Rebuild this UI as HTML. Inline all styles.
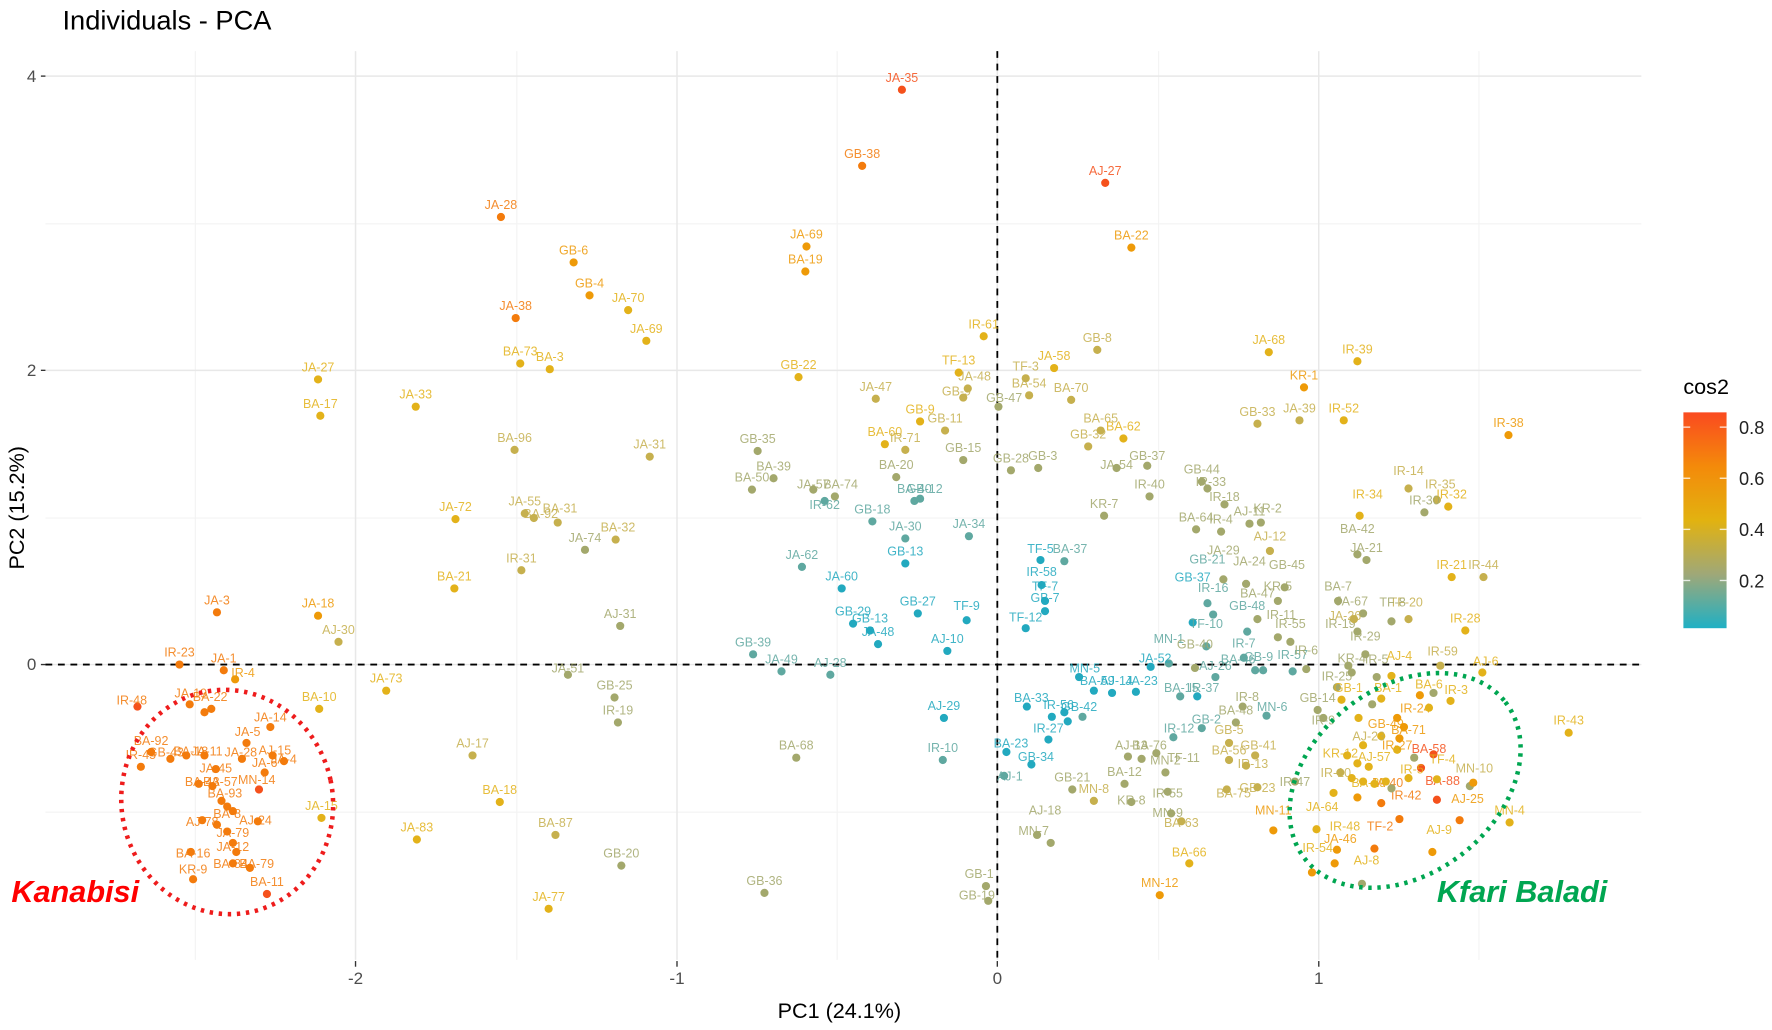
<!DOCTYPE html>
<html><head><meta charset="utf-8"><style>
html,body{margin:0;padding:0;background:#fff;}
svg{display:block;}
text{font-family:"Liberation Sans",sans-serif;}
.p text{font-size:11px;text-anchor:middle;opacity:.85;}
.a{fill:#22a9bf}.b{fill:#5fa8a0}.c{fill:#a3a86c}.d{fill:#c6b04e}.e{fill:#e3b21a}.f{fill:#ee9a08}.g{fill:#f37b0c}.h{fill:#f5511c}
</style></head><body>
<svg width="1772" height="1030" viewBox="0 0 1560 906.7" preserveAspectRatio="none" xmlns="http://www.w3.org/2000/svg">
<rect width="1560" height="907" fill="#fff"/>
<text x="55" y="26" font-size="24">Individuals - PCA</text>
<!-- grid -->
<g stroke="#f3f3f3" stroke-width="1">
<line x1="172" y1="45" x2="172" y2="845"/><line x1="455" y1="45" x2="455" y2="845"/><line x1="737" y1="45" x2="737" y2="845"/><line x1="1020" y1="45" x2="1020" y2="845"/><line x1="1302" y1="45" x2="1302" y2="845"/>
<line x1="40" y1="197" x2="1445" y2="197"/><line x1="40" y1="456" x2="1445" y2="456"/><line x1="40" y1="715" x2="1445" y2="715"/>
</g>
<g stroke="#e8e8e8" stroke-width="1.3">
<line x1="313" y1="45" x2="313" y2="845"/><line x1="596" y1="45" x2="596" y2="845"/><line x1="878" y1="45" x2="878" y2="845"/><line x1="1161" y1="45" x2="1161" y2="845"/>
<line x1="40" y1="67" x2="1445" y2="67"/><line x1="40" y1="326" x2="1445" y2="326"/><line x1="40" y1="585" x2="1445" y2="585"/>
</g>
<!-- ticks -->
<g stroke="#333" stroke-width="1.2">
<line x1="36" y1="67" x2="40" y2="67"/><line x1="36" y1="326" x2="40" y2="326"/><line x1="36" y1="585" x2="40" y2="585"/>
<line x1="313" y1="846" x2="313" y2="851"/><line x1="596" y1="846" x2="596" y2="851"/><line x1="878" y1="846" x2="878" y2="851"/><line x1="1161" y1="846" x2="1161" y2="851"/>
</g>
<g font-size="15" fill="#4d4d4d">
<text x="32" y="72" text-anchor="end">4</text><text x="32" y="331" text-anchor="end">2</text><text x="32" y="590" text-anchor="end">0</text>
<text x="313" y="866" text-anchor="middle">-2</text><text x="596" y="866" text-anchor="middle">-1</text><text x="878" y="866" text-anchor="middle">0</text><text x="1161" y="866" text-anchor="middle">1</text>
</g>
<text x="739" y="896" font-size="19" text-anchor="middle">PC1 (24.1%)</text>
<text transform="translate(21,447) rotate(-90)" font-size="19" text-anchor="middle">PC2 (15.2%)</text>
<!-- dashed axes -->
<line x1="878" y1="45" x2="878" y2="845" stroke="#000" stroke-width="1.6" stroke-dasharray="6,5"/>
<line x1="40" y1="585" x2="1445" y2="585" stroke="#000" stroke-width="1.6" stroke-dasharray="6,5"/>
<!-- points -->
<g class="p">
<circle class="h" cx="794" cy="79" r="3.6"/><text class="h" x="794" y="72">JA-35</text>
<circle class="g" cx="759" cy="146" r="3.6"/><text class="g" x="759" y="139">GB-38</text>
<circle class="h" cx="973" cy="161" r="3.6"/><text class="h" x="973" y="154">AJ-27</text>
<circle class="g" cx="441" cy="191" r="3.6"/><text class="g" x="441" y="184">JA-28</text>
<circle class="f" cx="505" cy="231" r="3.6"/><text class="f" x="505" y="224">GB-6</text>
<circle class="f" cx="519" cy="260" r="3.6"/><text class="f" x="519" y="253">GB-4</text>
<circle class="e" cx="553" cy="273" r="3.6"/><text class="e" x="553" y="266">JA-70</text>
<circle class="e" cx="569" cy="300" r="3.6"/><text class="e" x="569" y="293">JA-69</text>
<circle class="g" cx="454" cy="280" r="3.6"/><text class="g" x="454" y="273">JA-38</text>
<circle class="e" cx="458" cy="320" r="3.6"/><text class="e" x="458" y="313">BA-73</text>
<circle class="e" cx="484" cy="325" r="3.6"/><text class="e" x="484" y="318">BA-3</text>
<circle class="e" cx="280" cy="334" r="3.6"/><text class="e" x="280" y="327">JA-27</text>
<circle class="e" cx="282" cy="366" r="3.6"/><text class="e" x="282" y="359">BA-17</text>
<circle class="e" cx="366" cy="358" r="3.6"/><text class="e" x="366" y="351">JA-33</text>
<circle class="d" cx="453" cy="396" r="3.6"/><text class="d" x="453" y="389">BA-96</text>
<circle class="d" cx="572" cy="402" r="3.6"/><text class="d" x="572" y="395">JA-31</text>
<circle class="f" cx="710" cy="217" r="3.6"/><text class="f" x="710" y="210">JA-69</text>
<circle class="f" cx="709" cy="239" r="3.6"/><text class="f" x="709" y="232">BA-19</text>
<circle class="f" cx="996" cy="218" r="3.6"/><text class="f" x="996" y="211">BA-22</text>
<circle class="e" cx="866" cy="296" r="3.6"/><text class="e" x="866" y="289">IR-61</text>
<circle class="e" cx="703" cy="332" r="3.6"/><text class="e" x="703" y="325">GB-22</text>
<circle class="e" cx="844" cy="328" r="3.6"/><text class="e" x="844" y="321">TF-13</text>
<circle class="d" cx="852" cy="342" r="3.6"/><text class="d" x="858" y="335">JA-48</text>
<circle class="d" cx="848" cy="350" r="3.6"/><text class="d" x="842" y="348">GB-9</text>
<circle class="d" cx="832" cy="379" r="3.6"/><text class="d" x="832" y="372">GB-11</text>
<circle class="d" cx="771" cy="351" r="3.6"/><text class="d" x="771" y="344">JA-47</text>
<circle class="d" cx="903" cy="333" r="3.6"/><text class="d" x="903" y="326">TF-3</text>
<circle class="e" cx="928" cy="324" r="3.6"/><text class="e" x="928" y="317">JA-58</text>
<circle class="d" cx="906" cy="348" r="3.6"/><text class="d" x="906" y="341">BA-54</text>
<circle class="d" cx="966" cy="308" r="3.6"/><text class="d" x="966" y="301">GB-8</text>
<circle class="d" cx="943" cy="352" r="3.6"/><text class="d" x="943" y="345">BA-70</text>
<circle class="c" cx="879" cy="358" r="3.6"/><text class="c" x="884" y="354">GB-47</text>
<circle class="e" cx="810" cy="371" r="3.6"/><text class="e" x="810" y="364">GB-9</text>
<circle class="e" cx="779" cy="391" r="3.6"/><text class="e" x="779" y="384">BA-60</text>
<circle class="d" cx="797" cy="396" r="3.6"/><text class="d" x="797" y="389">IR-71</text>
<circle class="c" cx="848" cy="405" r="3.6"/><text class="c" x="848" y="398">GB-15</text>
<circle class="d" cx="969" cy="379" r="3.6"/><text class="d" x="969" y="372">BA-65</text>
<circle class="e" cx="989" cy="386" r="3.6"/><text class="e" x="989" y="379">BA-62</text>
<circle class="d" cx="958" cy="393" r="3.6"/><text class="d" x="958" y="386">GB-32</text>
<circle class="c" cx="667" cy="397" r="3.6"/><text class="c" x="667" y="390">GB-35</text>
<circle class="c" cx="681" cy="421" r="3.6"/><text class="c" x="681" y="414">BA-39</text>
<circle class="c" cx="662" cy="431" r="3.6"/><text class="c" x="662" y="424">BA-50</text>
<circle class="c" cx="789" cy="420" r="3.6"/><text class="c" x="789" y="413">BA-20</text>
<circle class="c" cx="890" cy="414" r="3.6"/><text class="c" x="890" y="407">GB-28</text>
<circle class="c" cx="914" cy="412" r="3.6"/><text class="c" x="918" y="405">GB-3</text>
<circle class="c" cx="983" cy="412" r="3.6"/><text class="c" x="983" y="413">JA-54</text>
<circle class="c" cx="1010" cy="410" r="3.6"/><text class="c" x="1010" y="405">GB-37</text>
<circle class="c" cx="1012" cy="437" r="3.6"/><text class="c" x="1012" y="430">IR-40</text>
<circle class="c" cx="972" cy="454" r="3.6"/><text class="c" x="972" y="447">KR-7</text>
<circle class="c" cx="1058" cy="424" r="3.6"/><text class="c" x="1058" y="417">GB-44</text>
<circle class="c" cx="1063" cy="430" r="3.6"/><text class="c" x="1066" y="428">IR-33</text>
<circle class="c" cx="1078" cy="444" r="3.6"/><text class="c" x="1078" y="441">IR-18</text>
<circle class="c" cx="1053" cy="466" r="3.6"/><text class="c" x="1053" y="459">BA-64</text>
<circle class="c" cx="1075" cy="468" r="3.6"/><text class="c" x="1075" y="461">IR-4</text>
<circle class="c" cx="1100" cy="461" r="3.6"/><text class="c" x="1100" y="454">AJ-11</text>
<circle class="c" cx="1110" cy="460" r="3.6"/><text class="c" x="1116" y="451">KR-2</text>
<circle class="d" cx="1118" cy="485" r="3.6"/><text class="d" x="1118" y="476">AJ-12</text>
<circle class="c" cx="716" cy="431" r="3.6"/><text class="c" x="716" y="430">JA-57</text>
<circle class="c" cx="735" cy="437" r="3.6"/><text class="c" x="740" y="430">BA-74</text>
<circle class="b" cx="726" cy="441" r="3.6"/><text class="b" x="726" y="448">IR-62</text>
<circle class="b" cx="768" cy="459" r="3.6"/><text class="b" x="768" y="452">GB-18</text>
<circle class="b" cx="805" cy="441" r="3.6"/><text class="b" x="805" y="434">BA-40</text>
<circle class="b" cx="810" cy="439" r="3.6"/><text class="b" x="814" y="434">GB-12</text>
<circle class="b" cx="797" cy="474" r="3.6"/><text class="b" x="797" y="467">JA-30</text>
<circle class="b" cx="853" cy="472" r="3.6"/><text class="b" x="853" y="465">JA-34</text>
<circle class="a" cx="797" cy="496" r="3.6"/><text class="a" x="797" y="489">GB-13</text>
<circle class="b" cx="706" cy="499" r="3.6"/><text class="b" x="706" y="492">JA-62</text>
<circle class="a" cx="741" cy="518" r="3.6"/><text class="a" x="741" y="511">JA-60</text>
<circle class="a" cx="808" cy="540" r="3.6"/><text class="a" x="808" y="533">GB-27</text>
<circle class="a" cx="851" cy="546" r="3.6"/><text class="a" x="851" y="537">TF-9</text>
<circle class="a" cx="751" cy="549" r="3.6"/><text class="a" x="751" y="542">GB-29</text>
<circle class="a" cx="766" cy="555" r="3.6"/><text class="a" x="766" y="548">GB-13</text>
<circle class="a" cx="773" cy="567" r="3.6"/><text class="a" x="773" y="560">JA-48</text>
<circle class="a" cx="834" cy="573" r="3.6"/><text class="a" x="834" y="566">AJ-10</text>
<circle class="b" cx="663" cy="576" r="3.6"/><text class="b" x="663" y="569">GB-39</text>
<circle class="b" cx="688" cy="591" r="3.6"/><text class="b" x="688" y="584">JA-49</text>
<circle class="b" cx="731" cy="594" r="3.6"/><text class="b" x="731" y="587">AJ-28</text>
<circle class="a" cx="916" cy="493" r="3.6"/><text class="a" x="916" y="487">TF-5</text>
<circle class="b" cx="937" cy="494" r="3.6"/><text class="b" x="942" y="487">BA-37</text>
<circle class="a" cx="917" cy="515" r="3.6"/><text class="a" x="917" y="507">IR-58</text>
<circle class="a" cx="920" cy="529" r="3.6"/><text class="a" x="920" y="520">TF-7</text>
<circle class="a" cx="920" cy="538" r="3.6"/><text class="a" x="920" y="530">GB-7</text>
<circle class="a" cx="903" cy="553" r="3.6"/><text class="a" x="903" y="547">TF-12</text>
<circle class="c" cx="1077" cy="510" r="3.6"/><text class="c" x="1077" y="488">JA-29</text>
<circle class="b" cx="1063" cy="531" r="3.6"/><text class="b" x="1063" y="496">GB-21</text>
<circle class="c" cx="1097" cy="514" r="3.6"/><text class="c" x="1100" y="498">JA-24</text>
<circle class="c" cx="1131" cy="517" r="3.6"/><text class="c" x="1133" y="501">GB-45</text>
<circle class="a" cx="1050" cy="548" r="3.6"/><text class="a" x="1050" y="512">GB-37</text>
<circle class="b" cx="1068" cy="541" r="3.6"/><text class="b" x="1068" y="521">IR-16</text>
<circle class="c" cx="1107" cy="545" r="3.6"/><text class="c" x="1107" y="526">BA-47</text>
<circle class="c" cx="1125" cy="529" r="3.6"/><text class="c" x="1125" y="520">KR-5</text>
<circle class="b" cx="1098" cy="556" r="3.6"/><text class="b" x="1098" y="537">GB-48</text>
<circle class="c" cx="1125" cy="561" r="3.6"/><text class="c" x="1128" y="545">IR-11</text>
<circle class="c" cx="1136" cy="565" r="3.6"/><text class="c" x="1136" y="553">IR-55</text>
<circle class="b" cx="1062" cy="569" r="3.6"/><text class="b" x="1062" y="553">TF-10</text>
<circle class="b" cx="1029" cy="584" r="3.6"/><text class="b" x="1029" y="566">MN-1</text>
<circle class="c" cx="1052" cy="588" r="3.6"/><text class="c" x="1052" y="571">GB-40</text>
<circle class="b" cx="1095" cy="579" r="3.6"/><text class="b" x="1095" y="570">IR-7</text>
<circle class="b" cx="1105" cy="590" r="3.6"/><text class="b" x="1108" y="582">GB-9</text>
<circle class="b" cx="1112" cy="590" r="3.6"/><text class="b" x="1090" y="584">BA-46</text>
<circle class="b" cx="1138" cy="591" r="3.6"/><text class="b" x="1138" y="580">IR-57</text>
<circle class="c" cx="1150" cy="589" r="3.6"/><text class="c" x="1150" y="576">IR-6</text>
<circle class="c" cx="1195" cy="556" r="3.6"/><text class="c" x="1180" y="553">IR-19</text>
<circle class="c" cx="1178" cy="529" r="3.6"/><text class="c" x="1178" y="520">BA-7</text>
<circle class="c" cx="1200" cy="540" r="3.6"/><text class="c" x="1190" y="533">JA-67</text>
<circle class="d" cx="1192" cy="545" r="3.6"/><text class="d" x="1184" y="546">JA-26</text>
<circle class="d" cx="1240" cy="545" r="3.6"/><text class="d" x="1238" y="534">TF-20</text>
<circle class="c" cx="1225" cy="547" r="3.6"/><text class="c" x="1226" y="534">TF-8</text>
<circle class="c" cx="1202" cy="576" r="3.6"/><text class="c" x="1202" y="564">IR-29</text>
<circle class="c" cx="1190" cy="592" r="3.6"/><text class="c" x="1190" y="583">KR-4</text>
<circle class="c" cx="1212" cy="596" r="3.6"/><text class="c" x="1212" y="584">IR-5</text>
<circle class="e" cx="1225" cy="595" r="3.6"/><text class="e" x="1232" y="581">AJ-4</text>
<circle class="d" cx="1268" cy="586" r="3.6"/><text class="d" x="1270" y="577">IR-59</text>
<circle class="e" cx="1305" cy="592" r="3.6"/><text class="e" x="1308" y="586">AJ-6</text>
<circle class="e" cx="1278" cy="508" r="3.6"/><text class="e" x="1278" y="501">IR-21</text>
<circle class="d" cx="1306" cy="508" r="3.6"/><text class="d" x="1306" y="501">IR-44</text>
<circle class="e" cx="1290" cy="555" r="3.6"/><text class="e" x="1290" y="548">IR-28</text>
<circle class="d" cx="1240" cy="430" r="3.6"/><text class="d" x="1240" y="418">IR-14</text>
<circle class="d" cx="1265" cy="440" r="3.6"/><text class="d" x="1268" y="430">IR-35</text>
<circle class="e" cx="1275" cy="446" r="3.6"/><text class="e" x="1278" y="439">IR-32</text>
<circle class="e" cx="1197" cy="454" r="3.6"/><text class="e" x="1204" y="439">IR-34</text>
<circle class="c" cx="1254" cy="451" r="3.6"/><text class="c" x="1254" y="444">IR-30</text>
<circle class="c" cx="1195" cy="488" r="3.6"/><text class="c" x="1195" y="469">BA-42</text>
<circle class="c" cx="1203" cy="493" r="3.6"/><text class="c" x="1203" y="486">JA-21</text>
<circle class="e" cx="1195" cy="318" r="3.6"/><text class="e" x="1195" y="311">IR-39</text>
<circle class="f" cx="1148" cy="341" r="3.6"/><text class="f" x="1148" y="334">KR-1</text>
<circle class="e" cx="1183" cy="370" r="3.6"/><text class="e" x="1183" y="363">IR-52</text>
<circle class="e" cx="1117" cy="310" r="3.6"/><text class="e" x="1117" y="303">JA-68</text>
<circle class="d" cx="1107" cy="373" r="3.6"/><text class="d" x="1107" y="366">GB-33</text>
<circle class="d" cx="1144" cy="370" r="3.6"/><text class="d" x="1144" y="363">JA-39</text>
<circle class="f" cx="1328" cy="383" r="3.6"/><text class="f" x="1328" y="376">IR-38</text>
<circle class="e" cx="1381" cy="645" r="3.6"/><text class="e" x="1381" y="638">IR-43</text>
<circle class="e" cx="1329" cy="724" r="3.6"/><text class="e" x="1329" y="717">MN-4</text>
<circle class="d" cx="462" cy="452" r="3.6"/><text class="d" x="462" y="445">JA-55</text>
<circle class="d" cx="470" cy="456" r="3.6"/><text class="d" x="476" y="456">BA-92</text>
<circle class="d" cx="491" cy="460" r="3.6"/><text class="d" x="493" y="451">BA-31</text>
<circle class="c" cx="515" cy="484" r="3.6"/><text class="c" x="515" y="477">JA-74</text>
<circle class="d" cx="542" cy="475" r="3.6"/><text class="d" x="544" y="468">BA-32</text>
<circle class="e" cx="401" cy="457" r="3.6"/><text class="e" x="401" y="450">JA-72</text>
<circle class="d" cx="459" cy="502" r="3.6"/><text class="d" x="459" y="495">IR-31</text>
<circle class="e" cx="400" cy="518" r="3.6"/><text class="e" x="400" y="511">BA-21</text>
<circle class="f" cx="280" cy="542" r="3.6"/><text class="f" x="280" y="535">JA-18</text>
<circle class="d" cx="298" cy="565" r="3.6"/><text class="d" x="298" y="558">AJ-30</text>
<circle class="c" cx="546" cy="551" r="3.6"/><text class="c" x="546" y="544">AJ-31</text>
<circle class="g" cx="191" cy="539" r="3.6"/><text class="g" x="191" y="532">JA-3</text>
<circle class="g" cx="158" cy="585" r="3.6"/><text class="g" x="158" y="578">IR-23</text>
<circle class="g" cx="197" cy="590" r="3.6"/><text class="g" x="197" y="583">JA-1</text>
<circle class="f" cx="207" cy="598" r="3.6"/><text class="f" x="214" y="596">IR-4</text>
<circle class="e" cx="340" cy="608" r="3.6"/><text class="e" x="340" y="601">JA-73</text>
<circle class="e" cx="281" cy="624" r="3.6"/><text class="e" x="281" y="617">BA-10</text>
<circle class="c" cx="500" cy="594" r="3.6"/><text class="c" x="500" y="592">JA-51</text>
<circle class="c" cx="541" cy="614" r="3.6"/><text class="c" x="541" y="607">GB-25</text>
<circle class="c" cx="544" cy="636" r="3.6"/><text class="c" x="544" y="629">IR-19</text>
<circle class="d" cx="416" cy="665" r="3.6"/><text class="d" x="416" y="658">AJ-17</text>
<circle class="e" cx="440" cy="706" r="3.6"/><text class="e" x="440" y="699">BA-18</text>
<circle class="c" cx="701" cy="667" r="3.6"/><text class="c" x="701" y="660">BA-68</text>
<circle class="e" cx="367" cy="739" r="3.6"/><text class="e" x="367" y="732">JA-83</text>
<circle class="d" cx="489" cy="735" r="3.6"/><text class="d" x="489" y="728">BA-87</text>
<circle class="c" cx="547" cy="762" r="3.6"/><text class="c" x="547" y="755">GB-20</text>
<circle class="e" cx="483" cy="800" r="3.6"/><text class="e" x="483" y="793">JA-77</text>
<circle class="c" cx="673" cy="786" r="3.6"/><text class="c" x="673" y="779">GB-36</text>
<circle class="a" cx="831" cy="632" r="3.6"/><text class="a" x="831" y="625">AJ-29</text>
<circle class="b" cx="830" cy="669" r="3.6"/><text class="b" x="830" y="662">IR-10</text>
<circle class="c" cx="868" cy="780" r="3.6"/><text class="c" x="862" y="773">GB-1</text>
<circle class="c" cx="870" cy="793" r="3.6"/><text class="c" x="860" y="792">GB-19</text>
<!-- Kanabisi cluster -->
<circle class="h" cx="121" cy="622" r="3.6"/><text class="g" x="116" y="620">IR-48</text>
<circle class="g" cx="167" cy="620" r="3.6"/><text class="g" x="168" y="614">JA-19</text>
<circle class="g" cx="180" cy="627" r="3.6"/><text class="g" x="185" y="617">BA-22</text>
<circle class="g" cx="186" cy="624" r="3.6"/>
<circle class="g" cx="133" cy="662" r="3.6"/><text class="g" x="133" y="656">BA-92</text>
<circle class="g" cx="150" cy="668" r="3.6"/><text class="g" x="146" y="666">GB-43</text>
<circle class="g" cx="124" cy="675" r="3.6"/><text class="g" x="124" y="668">IR-45</text>
<circle class="g" cx="164" cy="665" r="3.6"/><text class="g" x="168" y="665">BA-18</text>
<circle class="g" cx="180" cy="665" r="3.6"/><text class="g" x="182" y="665">JA-11</text>
<circle class="g" cx="217" cy="654" r="3.6"/><text class="g" x="218" y="648">JA-5</text>
<circle class="g" cx="238" cy="640" r="3.6"/><text class="g" x="238" y="635">JA-14</text>
<circle class="g" cx="213" cy="668" r="3.6"/><text class="g" x="212" y="666">JA-28</text>
<circle class="g" cx="240" cy="665" r="3.6"/><text class="g" x="242" y="664">AJ-15</text>
<circle class="g" cx="190" cy="677" r="3.6"/><text class="g" x="190" y="680">JA-45</text>
<circle class="g" cx="250" cy="670" r="3.6"/><text class="g" x="250" y="672">JA-4</text>
<circle class="g" cx="233" cy="680" r="3.6"/><text class="g" x="233" y="675">JA-6</text>
<circle class="h" cx="228" cy="695" r="3.6"/><text class="g" x="226" y="690">MN-14</text>
<circle class="g" cx="175" cy="690" r="3.6"/><text class="g" x="178" y="692">BA-43</text>
<circle class="g" cx="187" cy="692" r="3.6"/><text class="g" x="194" y="692">BA-57</text>
<circle class="g" cx="195" cy="705" r="3.6"/><text class="g" x="198" y="702">BA-93</text>
<circle class="g" cx="200" cy="710" r="3.6"/>
<circle class="g" cx="205" cy="714" r="3.6"/><text class="g" x="200" y="720">BA-8</text>
<circle class="g" cx="227" cy="723" r="3.6"/><text class="g" x="225" y="726">AJ-24</text>
<circle class="g" cx="178" cy="722" r="3.6"/><text class="g" x="178" y="727">AJ-78</text>
<circle class="g" cx="191" cy="726" r="3.6"/>
<circle class="g" cx="200" cy="732" r="3.6"/><text class="g" x="205" y="737">JA-79</text>
<circle class="g" cx="205" cy="742" r="3.6"/><text class="g" x="205" y="749">JA-12</text>
<circle class="g" cx="208" cy="750" r="3.6"/>
<circle class="g" cx="168" cy="750" r="3.6"/><text class="g" x="170" y="755">BA-16</text>
<circle class="g" cx="205" cy="760" r="3.6"/><text class="g" x="203" y="764">BA-84</text>
<circle class="g" cx="220" cy="764" r="3.6"/><text class="g" x="226" y="764">BA-79</text>
<circle class="g" cx="170" cy="774" r="3.6"/><text class="g" x="170" y="769">KR-9</text>
<circle class="h" cx="235" cy="787" r="3.6"/><text class="g" x="235" y="780">BA-11</text>
<circle class="e" cx="283" cy="720" r="3.6"/><text class="e" x="283" y="713">JA-15</text>
<!-- lower middle -->
<circle class="a" cx="950" cy="596" r="3.6"/><text class="a" x="955" y="592">MN-5</text>
<circle class="a" cx="963" cy="608" r="3.6"/><text class="a" x="966" y="603">BA-59</text>
<circle class="a" cx="979" cy="610" r="3.6"/><text class="a" x="983" y="603">AJ-14</text>
<circle class="a" cx="1000" cy="609" r="3.6"/><text class="a" x="1005" y="603">JA-23</text>
<circle class="a" cx="1013" cy="587" r="3.6"/><text class="a" x="1017" y="583">JA-52</text>
<circle class="b" cx="1070" cy="596" r="3.6"/><text class="b" x="1070" y="590">AJ-26</text>
<circle class="b" cx="1039" cy="613" r="3.6"/><text class="b" x="1040" y="609">BA-15</text>
<circle class="a" cx="1054" cy="613" r="3.6"/><text class="b" x="1060" y="609">IR-37</text>
<circle class="a" cx="904" cy="622" r="3.6"/><text class="a" x="908" y="618">BA-33</text>
<circle class="a" cx="926" cy="631" r="3.6"/><text class="a" x="932" y="624">IR-56</text>
<circle class="a" cx="937" cy="627" r="3.6"/><text class="a" x="950" y="626">GB-42</text>
<circle class="a" cx="940" cy="635" r="3.6"/>
<circle class="b" cx="953" cy="631" r="3.6"/>
<circle class="a" cx="923" cy="651" r="3.6"/><text class="a" x="923" y="645">IR-27</text>
<circle class="a" cx="886" cy="662" r="3.6"/><text class="a" x="890" y="658">BA-23</text>
<circle class="a" cx="908" cy="673" r="3.6"/><text class="a" x="912" y="670">GB-34</text>
<circle class="b" cx="884" cy="683" r="3.6"/><text class="b" x="889" y="687">AJ-1</text>
<circle class="b" cx="1033" cy="649" r="3.6"/><text class="b" x="1038" y="645">IR-12</text>
<circle class="b" cx="1058" cy="641" r="3.6"/><text class="b" x="1062" y="637">GB-2</text>
<circle class="c" cx="1094" cy="622" r="3.6"/><text class="c" x="1098" y="617">IR-8</text>
<circle class="b" cx="1115" cy="630" r="3.6"/><text class="b" x="1120" y="626">MN-6</text>
<circle class="c" cx="1088" cy="636" r="3.6"/><text class="c" x="1088" y="629">BA-48</text>
<circle class="d" cx="1082" cy="654" r="3.6"/><text class="d" x="1082" y="646">GB-5</text>
<circle class="d" cx="1105" cy="665" r="3.6"/><text class="d" x="1108" y="660">GB-41</text>
<circle class="d" cx="1082" cy="669" r="3.6"/><text class="d" x="1082" y="664">BA-56</text>
<circle class="d" cx="1097" cy="674" r="3.6"/><text class="d" x="1103" y="676">IR-13</text>
<circle class="c" cx="993" cy="666" r="3.6"/><text class="c" x="996" y="660">AJ-13</text>
<circle class="c" cx="1005" cy="668" r="3.6"/><text class="c" x="1012" y="660">BA-76</text>
<circle class="c" cx="1018" cy="663" r="3.6"/><text class="c" x="1042" y="671">TF-11</text>
<circle class="c" cx="944" cy="695" r="3.6"/><text class="c" x="944" y="688">GB-21</text>
<circle class="d" cx="963" cy="705" r="3.6"/><text class="d" x="963" y="698">MN-8</text>
<circle class="c" cx="990" cy="690" r="3.6"/><text class="c" x="990" y="683">BA-12</text>
<circle class="c" cx="996" cy="706" r="3.6"/><text class="c" x="996" y="708">KR-8</text>
<circle class="c" cx="925" cy="742" r="3.6"/><text class="c" x="920" y="717">AJ-18</text>
<circle class="c" cx="913" cy="735" r="3.6"/><text class="c" x="910" y="735">MN-7</text>
<circle class="c" cx="1026" cy="680" r="3.6"/><text class="c" x="1026" y="673">MN-2</text>
<circle class="c" cx="1028" cy="697" r="3.6"/><text class="c" x="1028" y="702">IR-55</text>
<circle class="c" cx="1031" cy="716" r="3.6"/><text class="c" x="1028" y="719">MN-9</text>
<circle class="d" cx="1040" cy="723" r="3.6"/><text class="d" x="1040" y="728">BA-63</text>
<circle class="e" cx="1047" cy="760" r="3.6"/><text class="e" x="1047" y="754">BA-66</text>
<circle class="f" cx="1021" cy="788" r="3.6"/><text class="f" x="1021" y="781">MN-12</text>
<circle class="d" cx="1080" cy="695" r="3.6"/><text class="d" x="1086" y="702">BA-75</text>
<circle class="d" cx="1107" cy="693" r="3.6"/><text class="d" x="1107" y="697">GB-23</text>
<circle class="c" cx="1140" cy="688" r="3.6"/><text class="c" x="1140" y="692">IR-47</text>
<circle class="f" cx="1121" cy="731" r="3.6"/><text class="f" x="1121" y="717">MN-11</text>
<circle class="c" cx="1160" cy="625" r="3.6"/><text class="c" x="1160" y="618">GB-14</text>
<circle class="c" cx="1165" cy="632" r="3.6"/><text class="c" x="1165" y="638">IR-9</text>
<circle class="c" cx="1177" cy="605" r="3.6"/><text class="c" x="1177" y="599">IR-25</text>
<circle class="c" cx="1187" cy="586" r="3.6"/>
<!-- Kfari Baladi cluster -->
<circle class="e" cx="1159" cy="730" r="3.6"/><text class="e" x="1164" y="714">JA-64</text>
<circle class="f" cx="1177" cy="748" r="3.6"/><text class="e" x="1184" y="731">IR-48</text>
<circle class="f" cx="1175" cy="760" r="3.6"/><text class="f" x="1180" y="742">JA-46</text>
<circle class="f" cx="1155" cy="768" r="3.6"/><text class="e" x="1160" y="750">IR-54</text>
<circle class="c" cx="1199" cy="778" r="3.6"/><text class="e" x="1203" y="761">AJ-8</text>
<circle class="g" cx="1210" cy="747" r="3.6"/><text class="g" x="1215" y="731">TF-2</text>
<circle class="f" cx="1261" cy="750" r="3.6"/><text class="e" x="1267" y="734">AJ-9</text>
<circle class="g" cx="1285" cy="722" r="3.6"/><text class="f" x="1292" y="707">AJ-25</text>
<circle class="g" cx="1232" cy="721" r="3.6"/><text class="g" x="1238" y="704">IR-42</text>
<circle class="g" cx="1216" cy="707" r="3.6"/><text class="g" x="1221" y="693">JA-40</text>
<circle class="h" cx="1265" cy="704" r="3.6"/><text class="h" x="1270" y="691">BA-88</text>
<circle class="h" cx="1251" cy="676" r="3.6"/><text class="h" x="1258" y="663">BA-58</text>
<circle class="h" cx="1262" cy="664" r="3.6"/>
<circle class="c" cx="1294" cy="692" r="3.6"/><text class="d" x="1298" y="680">MN-10</text>
<circle class="f" cx="1297" cy="689" r="3.6"/>
<circle class="e" cx="1277" cy="617" r="3.6"/><text class="e" x="1282" y="611">IR-3</text>
<circle class="f" cx="1236" cy="640" r="3.6"/><text class="f" x="1246" y="627">IR-24</text>
<circle class="e" cx="1216" cy="648" r="3.6"/><text class="f" x="1220" y="641">GB-49</text>
<circle class="f" cx="1232" cy="650" r="3.6"/><text class="f" x="1240" y="646">BA-71</text>
<circle class="e" cx="1230" cy="660" r="3.6"/><text class="f" x="1230" y="660">IR-27</text>
<circle class="e" cx="1200" cy="656" r="3.6"/><text class="d" x="1205" y="652">AJ-23</text>
<circle class="e" cx="1186" cy="665" r="3.6"/><text class="e" x="1180" y="667">KR-12</text>
<circle class="e" cx="1195" cy="672" r="3.6"/>
<circle class="e" cx="1205" cy="675" r="3.6"/><text class="e" x="1210" y="670">AJ-57</text>
<circle class="d" cx="1180" cy="680" r="3.6"/><text class="d" x="1176" y="684">IR-10</text>
<circle class="e" cx="1190" cy="685" r="3.6"/>
<circle class="e" cx="1200" cy="688" r="3.6"/>
<circle class="e" cx="1210" cy="690" r="3.6"/><text class="e" x="1205" y="693">BA-29</text>
<circle class="e" cx="1220" cy="688" r="3.6"/>
<circle class="c" cx="1225" cy="694" r="3.6"/>
<circle class="e" cx="1240" cy="685" r="3.6"/><text class="e" x="1243" y="681">IR-5</text>
<circle class="c" cx="1245" cy="667" r="3.6"/>
<circle class="e" cx="1265" cy="686" r="3.6"/><text class="e" x="1270" y="672">TF-4</text>
<circle class="e" cx="1174" cy="698" r="3.6"/>
<circle class="f" cx="1195" cy="702" r="3.6"/>
<circle class="e" cx="1181" cy="616" r="3.6"/><text class="e" x="1187" y="609">GB-1</text>
<circle class="e" cx="1216" cy="615" r="3.6"/><text class="e" x="1222" y="609">BA-1</text>
<circle class="f" cx="1250" cy="612" r="3.6"/><text class="e" x="1258" y="606">BA-6</text>
<circle class="c" cx="1262" cy="610" r="3.6"/>
<circle class="e" cx="1258" cy="623" r="3.6"/>
<circle class="f" cx="1230" cy="632" r="3.6"/>
<circle class="c" cx="1208" cy="620" r="3.6"/>
<circle class="e" cx="1196" cy="632" r="3.6"/>
</g>
<!-- ellipses -->
<ellipse cx="200" cy="706" rx="93" ry="99" fill="none" stroke="#ee1c1c" stroke-width="4" stroke-dasharray="3,5" transform="rotate(-12 200 706)"/>
<ellipse cx="1237" cy="687" rx="112" ry="82" fill="none" stroke="#00a651" stroke-width="4" stroke-dasharray="3,5" transform="rotate(-38 1237 687)"/>
<text x="10" y="794" font-size="27" font-weight="bold" font-style="italic" fill="#f00">Kanabisi</text>
<text x="1265" y="794" font-size="27" font-weight="bold" font-style="italic" fill="#00a651">Kfari Baladi</text>
<!-- legend -->
<defs><linearGradient id="cg" x1="0" y1="1" x2="0" y2="0">
<stop offset="0" stop-color="#1fb0c4"/><stop offset="0.25" stop-color="#9fa878"/><stop offset="0.5" stop-color="#e2b210"/><stop offset="0.75" stop-color="#f48a0a"/><stop offset="1" stop-color="#fa4a20"/></linearGradient></defs>
<text x="1482" y="347" font-size="19">cos2</text>
<rect x="1482" y="363" width="38" height="190" fill="url(#cg)"/>
<g stroke="#fff" stroke-width="1.2" opacity=".8">
<line x1="1482" y1="376" x2="1488" y2="376"/><line x1="1514" y1="376" x2="1520" y2="376"/>
<line x1="1482" y1="421" x2="1488" y2="421"/><line x1="1514" y1="421" x2="1520" y2="421"/>
<line x1="1482" y1="466" x2="1488" y2="466"/><line x1="1514" y1="466" x2="1520" y2="466"/>
<line x1="1482" y1="511" x2="1488" y2="511"/><line x1="1514" y1="511" x2="1520" y2="511"/>
</g>
<g font-size="16" fill="#222">
<text x="1531" y="382">0.8</text><text x="1531" y="427">0.6</text><text x="1531" y="472">0.4</text><text x="1531" y="517">0.2</text>
</g>
</svg>
</body></html>
